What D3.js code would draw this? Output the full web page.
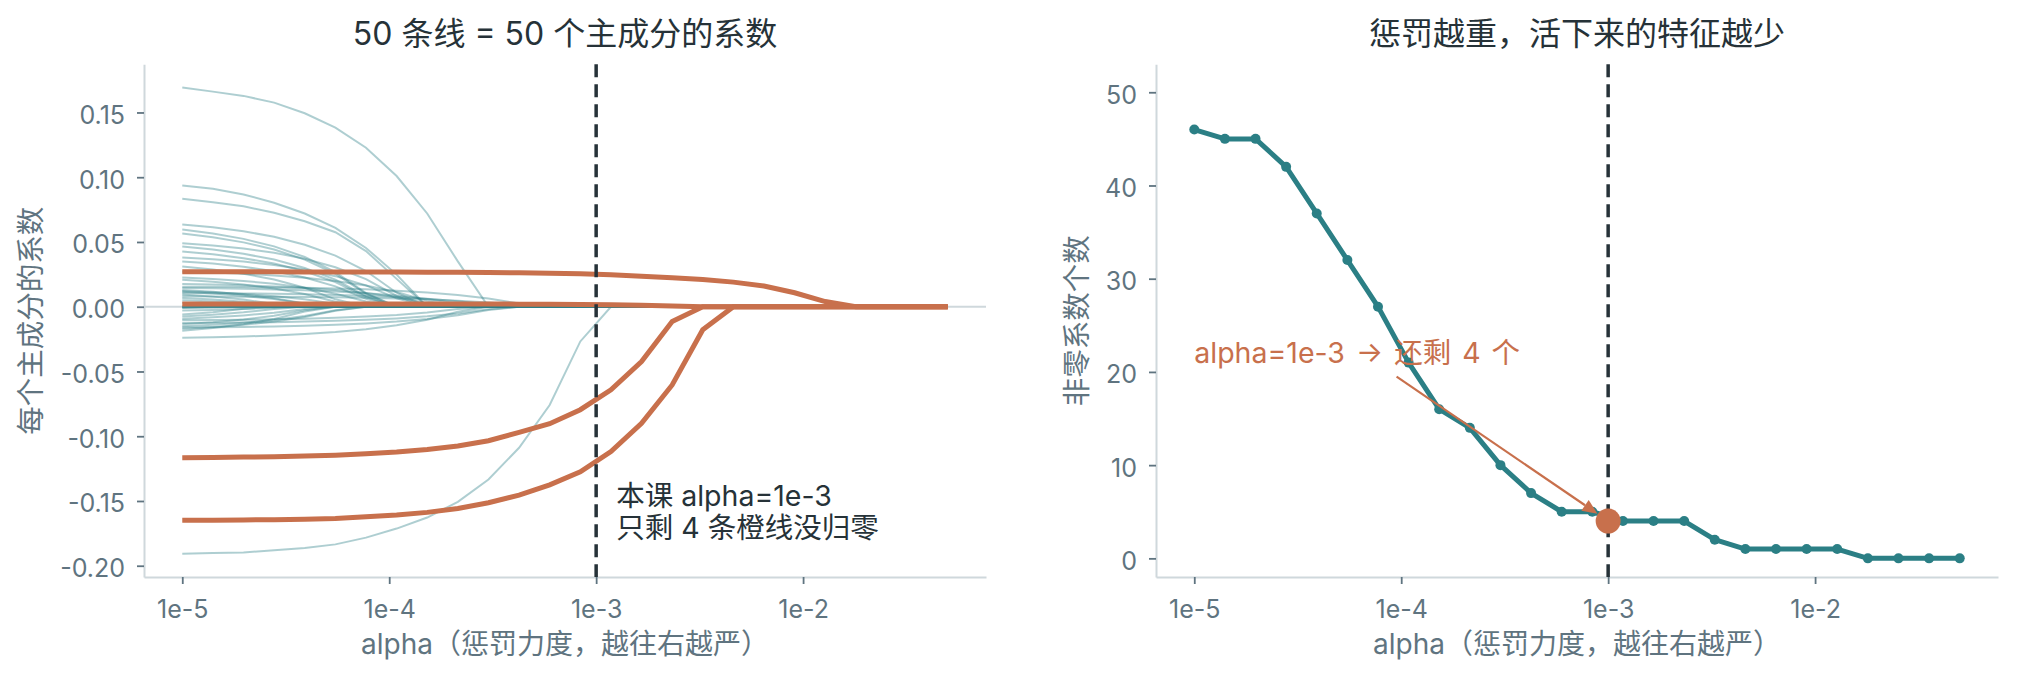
<!DOCTYPE html>
<html>
<head>
<meta charset="utf-8">
<script src="https://cdnjs.cloudflare.com/ajax/libs/d3/7.8.5/d3.min.js"></script>
<style>
  body { margin: 0; background: #fff; }
</style>
</head>
<body>
<div id="chart"></div>
<script>
// alpha grid (26 points, log spaced from 1e-5 to 5e-2)
var alphas = [1.000e-5, 1.406e-5, 1.977e-5, 2.779e-5, 3.907e-5, 5.494e-5, 7.723e-5,
  1.086e-4, 1.526e-4, 2.146e-4, 3.017e-4, 4.242e-4, 5.963e-4, 8.384e-4,
  1.179e-3, 1.657e-3, 2.330e-3, 3.275e-3, 4.604e-3, 6.473e-3, 9.101e-3,
  1.279e-2, 1.799e-2, 2.529e-2, 3.555e-2, 5.000e-2];

// one row per principal component, one value per alpha
var coefs = [
  [0.1692,0.1661,0.1628,0.1576,0.1494,0.1383,0.1228,0.1009,0.0720,0.0350,0,0,0,0,0,0,0,0,0,0,0,0,0,0,0,0],
  [0.0937,0.0911,0.0867,0.0803,0.0720,0.0609,0.0454,0.0248,0,0,0,0,0,0,0,0,0,0,0,0,0,0,0,0,0,0],
  [0.0833,0.0807,0.0776,0.0725,0.0660,0.0575,0.0430,0.0215,0,0,0,0,0,0,0,0,0,0,0,0,0,0,0,0,0,0],
  [0.0635,0.0613,0.0583,0.0540,0.0479,0.0395,0.0276,0.0108,0,0,0,0,0,0,0,0,0,0,0,0,0,0,0,0,0,0],
  [0.0565,0.0537,0.0497,0.0442,0.0364,0.0254,0.0099,0,0,0,0,0,0,0,0,0,0,0,0,0,0,0,0,0,0,0],
  [0.0490,0.0473,0.0450,0.0417,0.0370,0.0305,0.0213,0.0083,0,0,0,0,0,0,0,0,0,0,0,0,0,0,0,0,0,0],
  [0.0465,0.0442,0.0409,0.0364,0.0299,0.0209,0.0082,0,0,0,0,0,0,0,0,0,0,0,0,0,0,0,0,0,0,0],
  [0.0426,0.0405,0.0375,0.0333,0.0274,0.0191,0.0075,0,0,0,0,0,0,0,0,0,0,0,0,0,0,0,0,0,0,0],
  [0.0380,0.0367,0.0349,0.0323,0.0287,0.0236,0.0165,0.0065,0,0,0,0,0,0,0,0,0,0,0,0,0,0,0,0,0,0],
  [0.0350,0.0333,0.0308,0.0274,0.0225,0.0157,0.0062,0,0,0,0,0,0,0,0,0,0,0,0,0,0,0,0,0,0,0],
  [0.0310,0.0287,0.0255,0.0210,0.0147,0.0057,0,0,0,0,0,0,0,0,0,0,0,0,0,0,0,0,0,0,0,0],
  [0.0226,0.0215,0.0199,0.0177,0.0146,0.0101,0.0040,0,0,0,0,0,0,0,0,0,0,0,0,0,0,0,0,0,0,0],
  [0.0208,0.0193,0.0171,0.0141,0.0098,0.0038,0,0,0,0,0,0,0,0,0,0,0,0,0,0,0,0,0,0,0,0],
  [0.0144,0.0142,0.0138,0.0133,0.0127,0.0118,0.0104,0.0086,0.0060,0.0023,0,0,0,0,0,0,0,0,0,0,0,0,0,0,0,0],
  [0.0130,0.0115,0.0095,0.0066,0.0026,0,0,0,0,0,0,0,0,0,0,0,0,0,0,0,0,0,0,0,0,0],
  [0.0105,0.0104,0.0102,0.0100,0.0096,0.0091,0.0085,0.0075,0.0062,0.0043,0.0017,0,0,0,0,0,0,0,0,0,0,0,0,0,0,0],
  [0.0067,0.0055,0.0038,0.0015,0,0,0,0,0,0,0,0,0,0,0,0,0,0,0,0,0,0,0,0,0,0],
  [-0.0010,-0.0007,-0.0003,0,0,0,0,0,0,0,0,0,0,0,0,0,0,0,0,0,0,0,0,0,0,0],
  [-0.0092,-0.0082,-0.0067,-0.0047,-0.0018,0,0,0,0,0,0,0,0,0,0,0,0,0,0,0,0,0,0,0,0,0],
  [-0.0125,-0.0124,-0.0122,-0.0119,-0.0115,-0.0109,-0.0101,-0.0090,-0.0074,-0.0052,-0.0020,0,0,0,0,0,0,0,0,0,0,0,0,0,0,0],
  [-0.0150,-0.0139,-0.0123,-0.0102,-0.0071,-0.0028,0,0,0,0,0,0,0,0,0,0,0,0,0,0,0,0,0,0,0,0],
  [-0.0240,-0.0236,-0.0230,-0.0222,-0.0211,-0.0196,-0.0174,-0.0143,-0.0100,-0.0039,0,0,0,0,0,0,0,0,0,0,0,0,0,0,0,0],
  [-0.1907,-0.1902,-0.1897,-0.1881,-0.1863,-0.1835,-0.1783,-0.1713,-0.1628,-0.1507,-0.1334,-0.1089,-0.0759,-0.0268,0,0,0,0,0,0,0,0,0,0,0,0],
  [0.0596,0.0566,0.0524,0.0466,0.0384,0.0268,0.0105,0,0,0,0,0,0,0,0,0,0,0,0,0,0,0,0,0,0,0],
  [0.0270,0.0264,0.0255,0.0242,0.0224,0.0199,0.0164,0.0114,0.0045,0,0,0,0,0,0,0,0,0,0,0,0,0,0,0,0,0],
  [0.0175,0.0171,0.0165,0.0157,0.0145,0.0129,0.0106,0.0074,0.0029,0,0,0,0,0,0,0,0,0,0,0,0,0,0,0,0,0],
  [0.0155,0.0154,0.0152,0.0149,0.0146,0.0141,0.0134,0.0124,0.0110,0.0091,0.0063,0.0025,0,0,0,0,0,0,0,0,0,0,0,0,0,0],
  [0.0120,0.0111,0.0099,0.0081,0.0057,0.0022,0,0,0,0,0,0,0,0,0,0,0,0,0,0,0,0,0,0,0,0],
  [0.0115,0.0102,0.0084,0.0059,0.0023,0,0,0,0,0,0,0,0,0,0,0,0,0,0,0,0,0,0,0,0,0],
  [0.0095,0.0078,0.0055,0.0021,0,0,0,0,0,0,0,0,0,0,0,0,0,0,0,0,0,0,0,0,0,0],
  [0.0080,0.0079,0.0078,0.0077,0.0075,0.0073,0.0069,0.0064,0.0057,0.0047,0.0033,0.0013,0,0,0,0,0,0,0,0,0,0,0,0,0,0],
  [0.0050,0.0041,0.0029,0.0011,0,0,0,0,0,0,0,0,0,0,0,0,0,0,0,0,0,0,0,0,0,0],
  [0.0030,0.0021,0.0008,0,0,0,0,0,0,0,0,0,0,0,0,0,0,0,0,0,0,0,0,0,0,0],
  [-0.0030,-0.0025,-0.0017,-0.0007,0,0,0,0,0,0,0,0,0,0,0,0,0,0,0,0,0,0,0,0,0,0],
  [-0.0060,-0.0042,-0.0016,0,0,0,0,0,0,0,0,0,0,0,0,0,0,0,0,0,0,0,0,0,0,0],
  [-0.0105,-0.0103,-0.0101,-0.0097,-0.0093,-0.0086,-0.0076,-0.0063,-0.0044,-0.0017,0,0,0,0,0,0,0,0,0,0,0,0,0,0,0,0],
  [-0.0135,-0.0120,-0.0099,-0.0069,-0.0027,0,0,0,0,0,0,0,0,0,0,0,0,0,0,0,0,0,0,0,0,0],
  [-0.0160,-0.0158,-0.0156,-0.0152,-0.0147,-0.0139,-0.0129,-0.0115,-0.0094,-0.0066,-0.0026,0,0,0,0,0,0,0,0,0,0,0,0,0,0,0],
  [-0.0170,-0.0157,-0.0140,-0.0115,-0.0080,-0.0031,0,0,0,0,0,0,0,0,0,0,0,0,0,0,0,0,0,0,0,0],
  [-0.0185,-0.0164,-0.0135,-0.0094,-0.0037,0,0,0,0,0,0,0,0,0,0,0,0,0,0,0,0,0,0,0,0,0],
  [-0.0008,0,0,0,0,0,0,0,0,0,0,0,0,0,0,0,0,0,0,0,0,0,0,0,0,0],
  [-0.0075,-0.0062,-0.0043,-0.0017,0,0,0,0,0,0,0,0,0,0,0,0,0,0,0,0,0,0,0,0,0,0],
  [0,0,0,0,0,0,0,0,0,0,0,0,0,0,0,0,0,0,0,0,0,0,0,0,0,0],
  [0,0,0,0,0,0,0,0,0,0,0,0,0,0,0,0,0,0,0,0,0,0,0,0,0,0],
  [0,0,0,0,0,0,0,0,0,0,0,0,0,0,0,0,0,0,0,0,0,0,0,0,0,0],
  [0,0,0,0,0,0,0,0,0,0,0,0,0,0,0,0,0,0,0,0,0,0,0,0,0,0],
  [0.0270,0.0270,0.0270,0.0270,0.0269,0.0269,0.0268,0.0268,0.0267,0.0266,0.0264,0.0262,0.0259,0.0254,0.0246,0.0236,0.0224,0.0210,0.0190,0.0160,0.0108,0.0040,0,0,0,0],
  [0.0022,0.0022,0.0022,0.0022,0.0022,0.0022,0.0022,0.0021,0.0021,0.0021,0.0021,0.0020,0.0019,0.0018,0.0015,0.0012,0.0006,0,0,0,0,0,0,0,0,0],
  [-0.1166,-0.1164,-0.1161,-0.1159,-0.1153,-0.1146,-0.1135,-0.1122,-0.1102,-0.1076,-0.1035,-0.0970,-0.0903,-0.0795,-0.0642,-0.0423,-0.0114,0,0,0,0,0,0,0,0,0],
  [-0.1649,-0.1649,-0.1646,-0.1644,-0.1641,-0.1636,-0.1622,-0.1608,-0.1588,-0.1558,-0.1514,-0.1455,-0.1375,-0.1275,-0.1118,-0.0900,-0.0604,-0.0178,0,0,0,0,0,0,0,0]
];
// rows still non-zero at the chosen alpha (drawn orange)
var survivors = [46, 47, 48, 49];

var nonzeroCounts = [46, 45, 45, 42, 37, 32, 27, 21, 16, 14, 10, 7, 5, 5, 4, 4, 4, 2, 1, 1, 1, 1, 0, 0, 0, 0];
var chosenAlpha = 1e-3, chosenCount = 4;

var xTicks = [1e-5, 1e-4, 1e-3, 1e-2];
var xTickLabels = ["1e-5", "1e-4", "1e-3", "1e-2"];
var coefTicks = [-0.20, -0.15, -0.10, -0.05, 0.00, 0.05, 0.10, 0.15];
var countTicks = [0, 10, 20, 30, 40, 50];
var countDomain = [-2, 53];

var W = 2018, H = 682;
// latin glyphs from Inter (wider, like the reference), CJK falls back to Noto
var FONT = "Inter, 'Noto Sans CJK SC', sans-serif";
var TEAL = "#2b7f85", ORANGE = "#c8704c", INK = "#263238", MUTED = "#5f7480", SPINE = "#cfd8dc";
var top0 = 64.3, bot0 = 577;

var svg = d3.select("#chart").append("svg")
    .attr("width", W).attr("height", H)
    .attr("font-family", FONT);

// log padding of 5% like matplotlib margins
function logPad(ext) {
    var a = Math.log10(ext[0]), b = Math.log10(ext[1]), p = (b - a) * 0.05;
    return [Math.pow(10, a - p), Math.pow(10, b + p)];
}
var xDomain = logPad(d3.extent(alphas));
var xL = d3.scaleLog().domain(xDomain).range([144, 986]);
var xR = d3.scaleLog().domain(xDomain).range([1156, 1998]);

var cExt = d3.extent(coefs.flat()), cPad = (cExt[1] - cExt[0]) * 0.05;
var yL = d3.scaleLinear().domain([cExt[0] - cPad, cExt[1] + cPad]).range([bot0, top0]);
var yR = d3.scaleLinear().domain(countDomain).range([bot0, top0]);

function styleAxis(g) {
    g.attr("font-family", FONT).attr("font-size", 25);
    g.select(".domain").attr("stroke", SPINE).attr("stroke-width", 2);
    g.selectAll(".tick line").attr("stroke", MUTED).attr("stroke-width", 1.8);
    g.selectAll(".tick text").attr("fill", MUTED);
}

function drawAxes(x, y, yTicks, yFmt) {
    var gx = svg.append("g").attr("transform", "translate(0," + bot0 + ")")
        .call(d3.axisBottom(x).tickValues(xTicks)
            .tickFormat(function (d, i) { return xTickLabels[i]; })
            .tickSize(7).tickSizeOuter(0));
    styleAxis(gx);
    gx.selectAll(".tick text").attr("y", 41).attr("dy", 0);

    var gy = svg.append("g").attr("transform", "translate(" + x.range()[0] + ",0)")
        .call(d3.axisLeft(y).tickValues(yTicks).tickFormat(yFmt)
            .tickSize(7).tickPadding(12).tickSizeOuter(0));
    styleAxis(gy);
    gy.selectAll(".tick text").attr("dy", "0.44em");
}

function title(x, txt) {
    svg.append("text").attr("x", (x.range()[0] + x.range()[1]) / 2).attr("y", 45)
        .attr("text-anchor", "middle").attr("font-size", 32).attr("fill", INK).text(txt);
}
function xLabel(x) {
    svg.append("text").attr("x", (x.range()[0] + x.range()[1]) / 2).attr("y", 654)
        .attr("text-anchor", "middle").attr("font-size", 28).attr("fill", MUTED)
        .text("alpha（惩罚力度，越往右越严）");
}
function yLabel(xb, txt) {
    var yc = (top0 + bot0) / 2;
    svg.append("text").attr("transform", "translate(" + xb + "," + yc + ") rotate(-90)")
        .attr("text-anchor", "middle").attr("font-size", 28.5).attr("fill", MUTED).text(txt);
}

// ---------- left panel: coefficient paths ----------
drawAxes(xL, yL, coefTicks, function (d) { return d.toFixed(2); });

svg.append("line")
    .attr("x1", xL.range()[0]).attr("x2", xL.range()[1])
    .attr("y1", yL(0)).attr("y2", yL(0))
    .attr("stroke", SPINE).attr("stroke-width", 2);

var pathL = d3.line()
    .x(function (d, i) { return xL(alphas[i]); })
    .y(function (d) { return yL(d); });

svg.append("g").selectAll("path")
    .data(coefs.filter(function (d, i) { return survivors.indexOf(i) < 0; }))
    .enter().append("path")
    .attr("d", pathL)
    .attr("fill", "none").attr("stroke", TEAL)
    .attr("stroke-opacity", 0.38).attr("stroke-width", 2);

svg.append("g").selectAll("path")
    .data(survivors.map(function (i) { return coefs[i]; }))
    .enter().append("path")
    .attr("d", pathL)
    .attr("fill", "none").attr("stroke", ORANGE)
    .attr("stroke-width", 5);

svg.append("line")
    .attr("x1", xL(chosenAlpha)).attr("x2", xL(chosenAlpha))
    .attr("y1", top0).attr("y2", bot0)
    .attr("stroke", INK).attr("stroke-width", 3.5).attr("stroke-dasharray", "13,7");

var noteX = xL(1.25e-3), noteY = yL(-0.154);
svg.append("text").attr("x", noteX).attr("y", noteY)
    .attr("font-size", 28.5).attr("fill", INK).text("本课 alpha=1e-3");
svg.append("text").attr("x", noteX).attr("y", noteY + 32)
    .attr("font-size", 28.5).attr("fill", INK).text("只剩 4 条橙线没归零");

title(xL, "50 条线 = 50 个主成分的系数");
xLabel(xL);
yLabel(41, "每个主成分的系数");

// ---------- right panel: surviving feature count ----------
drawAxes(xR, yR, countTicks, function (d) { return d; });

svg.append("line")
    .attr("x1", xR(chosenAlpha)).attr("x2", xR(chosenAlpha))
    .attr("y1", top0).attr("y2", bot0)
    .attr("stroke", INK).attr("stroke-width", 3.5).attr("stroke-dasharray", "13,7");

var pathR = d3.line()
    .x(function (d, i) { return xR(alphas[i]); })
    .y(function (d) { return yR(d); });

svg.append("path").datum(nonzeroCounts)
    .attr("d", pathR)
    .attr("fill", "none").attr("stroke", TEAL).attr("stroke-width", 5)
    .attr("stroke-linejoin", "round");

svg.append("g").selectAll("circle")
    .data(nonzeroCounts).enter().append("circle")
    .attr("cx", function (d, i) { return xR(alphas[i]); })
    .attr("cy", function (d) { return yR(d); })
    .attr("r", 5).attr("fill", TEAL);

svg.append("circle")
    .attr("cx", xR(chosenAlpha)).attr("cy", yR(chosenCount))
    .attr("r", 12.5).attr("fill", ORANGE);

// annotation arrow from the text to the highlighted point
var ax0 = xR(9.5e-5), ay0 = yR(19.5);
var ax1 = xR(chosenAlpha), ay1 = yR(chosenCount);
var len = Math.hypot(ax1 - ax0, ay1 - ay0), ux = (ax1 - ax0) / len, uy = (ay1 - ay0) / len;
var tipX = ax1 - ux * 13, tipY = ay1 - uy * 13;
var baseX = tipX - ux * 15, baseY = tipY - uy * 15;
svg.append("line")
    .attr("x1", ax0).attr("y1", ay0).attr("x2", baseX).attr("y2", baseY)
    .attr("stroke", ORANGE).attr("stroke-width", 2.2);
svg.append("path")
    .attr("d", "M" + tipX + "," + tipY +
        "L" + (baseX - uy * 6.5) + "," + (baseY + ux * 6.5) +
        "L" + (baseX + uy * 6.5) + "," + (baseY - ux * 6.5) + "Z")
    .attr("fill", ORANGE);

svg.append("text")
    .attr("x", xR(1e-5)).attr("y", yR(21))
    .attr("font-size", 28.5).attr("fill", ORANGE)
    .attr("word-spacing", 3)
    .text("alpha=1e-3 → 还剩 4 个");

title(xR, "惩罚越重，活下来的特征越少");
xLabel(xR);
yLabel(1087, "非零系数个数");
</script>
</body>
</html>
